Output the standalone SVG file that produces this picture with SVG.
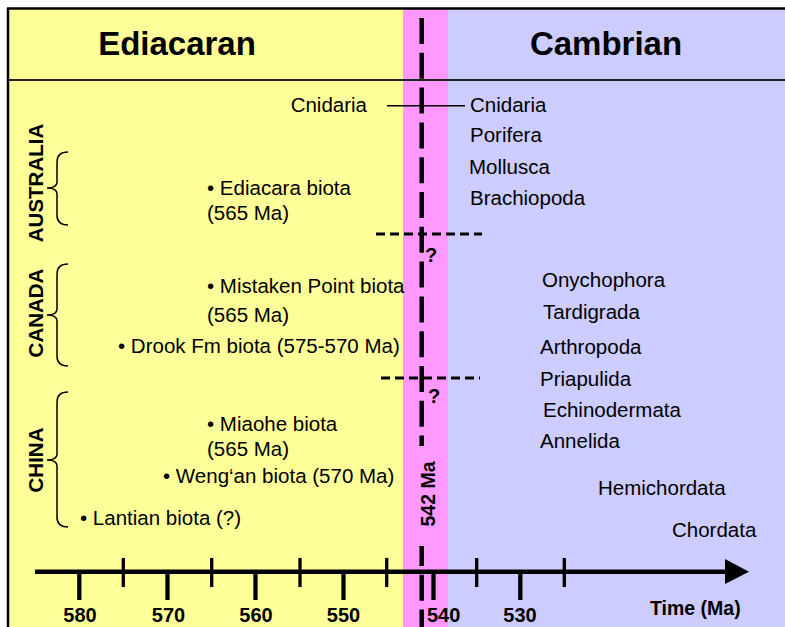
<svg xmlns="http://www.w3.org/2000/svg" width="785" height="627" viewBox="0 0 785 627">
<style>
text{font-family:"Liberation Sans",Arial,sans-serif;fill:#000}
.t{font-size:20.5px}
.h{font-size:33px;font-weight:bold;text-anchor:middle}
.r{font-size:20.5px;font-weight:bold;text-anchor:middle}
.a{font-size:20px;font-weight:bold}
.q{font-size:20px;font-weight:bold}
.brace{fill:none;stroke:#000;stroke-width:1.5}
.maj{stroke:#000;stroke-width:4.3}
.min{stroke:#000;stroke-width:3.3}
.hd{stroke:#000;stroke-width:3;stroke-dasharray:9 5;fill:none}
</style>
<rect x="0" y="0" width="785" height="627" fill="#fff"/>
<g id="background">
<rect x="8" y="8" width="395" height="619" fill="#FFFF99"/>
<rect x="403" y="8" width="45" height="619" fill="#FF99FF"/>
<rect x="448" y="8" width="337" height="619" fill="#CCCCFF"/>
<line x1="7" y1="8.5" x2="785" y2="8.5" stroke="#000" stroke-width="2.5"/>
<line x1="8" y1="8" x2="8" y2="627" stroke="#000" stroke-width="2.5"/>
<line x1="8" y1="80" x2="785" y2="80" stroke="#222" stroke-width="2"/>
</g>
<g id="headers">
<text class="h" x="177" y="55">Ediacaran</text>
<text class="h" x="606" y="55">Cambrian</text>
</g>
<g id="connectors">
<line x1="421.7" y1="18" x2="421.7" y2="627" stroke="#000" stroke-width="4.5" stroke-dasharray="26 8.8"/>
<rect x="412" y="446" width="20" height="100" fill="#FF99FF"/>
<line x1="387" y1="105.7" x2="465" y2="105.7" stroke="#000" stroke-width="1.6"/>
<line class="hd" x1="376" y1="234" x2="482" y2="234"/>
<line class="hd" x1="381" y1="378" x2="480" y2="378"/>
</g>
<g id="boundary-542">
<text class="q" x="425" y="262">?</text>
<text class="q" x="428" y="403">?</text>
<text font-size="19.5" font-weight="bold" text-anchor="middle" transform="translate(434.5,494) rotate(-90)">542 Ma</text>
</g>
<g id="australia">
<text class="r" transform="translate(43,183) rotate(-90)">AUSTRALIA</text>
<path class="brace" d="M68,152 Q57,152 57,162 L57,182 Q57,188 47,188 Q57,188 57,194 L57,215 Q57,225 68,225"/>
<text class="t" x="207" y="195">• Ediacara biota</text>
<text class="t" x="207" y="220">(565 Ma)</text>
</g>
<g id="canada">
<text class="r" transform="translate(43,313) rotate(-90)">CANADA</text>
<path class="brace" d="M68,264 Q57,264 57,274 L57,309 Q57,315 47,315 Q57,315 57,321 L57,356 Q57,366 68,366"/>
<text class="t" x="207" y="293">• Mistaken Point biota</text>
<text class="t" x="207" y="322">(565 Ma)</text>
<text class="t" x="118" y="353">• Drook Fm biota (575-570 Ma)</text>
</g>
<g id="china">
<text class="r" transform="translate(43,460) rotate(-90)">CHINA</text>
<path class="brace" d="M68,392 Q57,392 57,402 L57,454 Q57,460 47,460 Q57,460 57,466 L57,517 Q57,527 68,527"/>
<text class="t" x="207" y="431">• Miaohe biota</text>
<text class="t" x="207" y="456">(565 Ma)</text>
<text class="t" x="163" y="483">• Weng‘an biota (570 Ma)</text>
<text class="t" x="80" y="525">• Lantian biota (?)</text>
</g>
<g id="ediacaran-cnidaria">
<text class="t" x="367" y="112" text-anchor="end">Cnidaria</text>
</g>
<g id="cambrian-phyla">
<text class="t" x="470" y="112">Cnidaria</text>
<text class="t" x="470" y="142">Porifera</text>
<text class="t" x="469" y="174">Mollusca</text>
<text class="t" x="470" y="205">Brachiopoda</text>
<text class="t" x="542" y="287">Onychophora</text>
<text class="t" x="543" y="319">Tardigrada</text>
<text class="t" x="540" y="354">Arthropoda</text>
<text class="t" x="540" y="386">Priapulida</text>
<text class="t" x="543" y="417">Echinodermata</text>
<text class="t" x="540" y="448">Annelida</text>
<text class="t" x="598" y="495">Hemichordata</text>
<text class="t" x="672" y="537">Chordata</text>
</g>
<g id="time-axis">
<line x1="35" y1="571.7" x2="728" y2="571.7" stroke="#000" stroke-width="4.5"/>
<polygon points="725,559 749,571.7 725,584" fill="#000"/>
<line class="maj" x1="79.3" y1="572" x2="79.3" y2="600"/>
<line class="maj" x1="167.5" y1="572" x2="167.5" y2="600"/>
<line class="maj" x1="255.5" y1="572" x2="255.5" y2="600"/>
<line class="maj" x1="343.5" y1="572" x2="343.5" y2="600"/>
<line class="maj" x1="433.5" y1="572" x2="433.5" y2="600"/>
<line class="maj" x1="520.3" y1="572" x2="520.3" y2="600"/>
<line class="min" x1="123.3" y1="558" x2="123.3" y2="587"/>
<line class="min" x1="211.7" y1="558" x2="211.7" y2="587"/>
<line class="min" x1="300" y1="558" x2="300" y2="587"/>
<line class="min" x1="386.7" y1="558" x2="386.7" y2="587"/>
<line class="min" x1="476.7" y1="558" x2="476.7" y2="587"/>
<line class="min" x1="564.3" y1="558" x2="564.3" y2="587"/>
<text class="a" x="80" y="622" text-anchor="middle">580</text>
<text class="a" x="168.5" y="622" text-anchor="middle">570</text>
<text class="a" x="256" y="622" text-anchor="middle">560</text>
<text class="a" x="343.5" y="622" text-anchor="middle">550</text>
<text class="a" x="427" y="622">540</text>
<text class="a" x="520" y="622" text-anchor="middle">530</text>
<text font-size="19.5" font-weight="bold" x="650" y="615">Time (Ma)</text>
</g>
</svg>
